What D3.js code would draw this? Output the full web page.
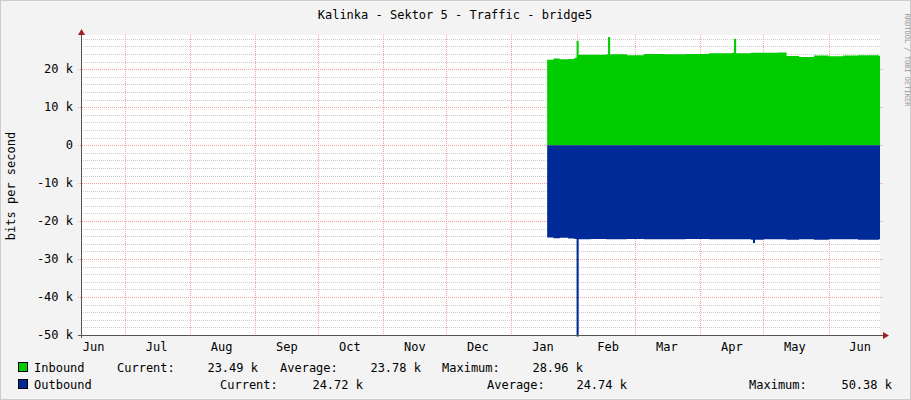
<!DOCTYPE html>
<html><head><meta charset="utf-8">
<script src="https://cdn.jsdelivr.net/npm/d3@7"></script>
<style>body{margin:0;background:#fff}text{font-family:"DejaVu Sans Mono",monospace}</style>
</head><body>
<script>
// data (values in k bits/s)
const dates = ["2011-01-18","2011-01-21","2011-01-24","2011-01-28","2011-01-31","2011-02-01","2011-02-02","2011-02-08","2011-02-15","2011-02-16","2011-02-17","2011-02-25","2011-03-05","2011-03-15","2011-03-25","2011-04-05","2011-04-16","2011-04-17","2011-04-18","2011-04-25","2011-04-26","2011-04-27","2011-05-01","2011-05-08","2011-05-12","2011-05-18","2011-05-25","2011-06-01","2011-06-08","2011-06-15","2011-06-25"];
const inbound = [22.5,22.8,22.6,22.7,23.0,27.5,23.8,23.8,23.9,28.5,23.9,23.7,24.0,23.9,24.0,24.2,24.3,28.0,24.2,24.3,24.3,24.3,24.3,24.4,23.5,23.2,23.6,23.4,23.6,23.7,23.5];
const outbound = [24.3,24.5,24.4,24.6,24.7,50.38,24.8,24.7,24.8,24.8,24.8,24.7,24.8,24.8,24.7,24.8,24.8,24.8,24.8,24.9,25.8,24.9,24.8,24.8,24.9,24.8,24.9,24.8,24.8,24.9,24.8];
const months = ["Jun","Jul","Aug","Sep","Oct","Nov","Dec","Jan","Feb","Mar","Apr","May","Jun"];
const yTicks = [-50,-40,-30,-20,-10,0,10,20];

const W = 911, H = 400;
const svg = d3.select("body").append("svg").attr("width", W).attr("height", H);
svg.append("rect").attr("width", W).attr("height", H).attr("fill", "#f3f3f3");
svg.append("rect").attr("x", 0.5).attr("y", 0.5).attr("width", W - 1).attr("height", H - 1).attr("fill", "none").attr("stroke", "#ccc");

const x = d3.scaleTime().domain([new Date(2010, 5, 10), new Date(2011, 5, 25, 12)]).range([81, 880]);
const y = d3.scaleLinear().domain([-50, 29]).range([335, 35]);

svg.append("rect").attr("x", 81).attr("y", 35).attr("width", 799).attr("height", 300).attr("fill", "#fff");

// grid
const minor = d3.range(-48, 29, 2).filter(v => v % 10 != 0);
svg.selectAll(".mg").data(minor).enter().append("line")
  .attr("x1", 81).attr("x2", 880).attr("y1", d => Math.round(y(d)) + 0.5).attr("y2", d => Math.round(y(d)) + 0.5)
  .attr("stroke", "#ccc").attr("stroke-dasharray", "1,1");
const mstarts = d3.timeMonth.range(new Date(2010, 6, 1), new Date(2011, 5, 25));
svg.selectAll(".vg").data(mstarts).enter().append("line")
  .attr("y1", 35).attr("y2", 335).attr("x1", d => Math.round(x(d)) + 0.5).attr("x2", d => Math.round(x(d)) + 0.5)
  .attr("stroke", "#f4a0a0").attr("stroke-dasharray", "1,1");
svg.selectAll(".hg").data(yTicks).enter().append("line")
  .attr("x1", 78).attr("x2", 884).attr("y1", d => Math.round(y(d)) + 0.5).attr("y2", d => Math.round(y(d)) + 0.5)
  .attr("stroke", "#f4a0a0").attr("stroke-dasharray", "1,1");

// areas
const pts = dates.map((d, i) => ({t: d3.timeParse("%Y-%m-%d")(d), i: inbound[i], o: outbound[i]}));
pts.push({t: new Date(2011, 5, 25, 12), i: inbound[inbound.length - 1], o: outbound[outbound.length - 1]});
svg.append("path").datum(pts).attr("fill", "#00cc00")
  .attr("d", d3.area().curve(d3.curveStepAfter).x(d => x(d.t)).y0(y(0)).y1(d => y(d.i)));
svg.append("path").datum(pts).attr("fill", "#002a97")
  .attr("d", d3.area().curve(d3.curveStepAfter).x(d => x(d.t)).y0(y(0)).y1(d => y(-d.o)));

// axes
svg.append("line").attr("x1", 81.5).attr("x2", 81.5).attr("y1", 33).attr("y2", 338).attr("stroke", "#555");
svg.append("line").attr("x1", 78).attr("x2", 884).attr("y1", 335.5).attr("y2", 335.5).attr("stroke", "#555");
svg.append("path").attr("d", "M78,35 L85,35 L81.5,29 Z").attr("fill", "#a02020");
svg.append("path").attr("d", "M883,332 L883,339 L889,335.5 Z").attr("fill", "#a02020");

svg.selectAll(".yl").data(yTicks).enter().append("text")
  .attr("x", 73).attr("y", d => y(d) + 4).attr("text-anchor", "end").attr("font-size", 12).attr("fill", "#000")
  .text(d => d == 0 ? "0" : d + " k");
const mids = d3.timeMonth.range(new Date(2010, 5, 1), new Date(2011, 6, 1)).map(d => new Date(d.getFullYear(), d.getMonth(), 16));
svg.selectAll(".xl").data(mids).enter().append("text")
  .attr("x", d => Math.max(x(d), 93)).attr("y", 351).attr("text-anchor", "middle").attr("font-size", 12)
  .text((d, i) => months[i]);

svg.append("text").attr("x", 455).attr("y", 19).attr("text-anchor", "middle").attr("font-size", 12).text("Kalinka - Sektor 5 - Traffic - bridge5");
svg.append("text").attr("transform", "translate(15,186) rotate(-90)").attr("text-anchor", "middle").attr("font-size", 12).text("bits per second");
svg.append("text").attr("transform", "translate(905,60) rotate(90)").attr("text-anchor", "middle").attr("font-size", 7).attr("fill", "#999").text("RRDTOOL / TOBI OETIKER");

// legend
const leg = [
  {c: "#00cc00", y: 372, items: [[34, "start", "Inbound"], [117, "start", "Current:"], [258, "end", "23.49 k"], [280, "start", "Average:"], [421, "end", "23.78 k"], [442, "start", "Maximum:"], [583, "end", "28.96 k"]]},
  {c: "#002a97", y: 389, items: [[34, "start", "Outbound"], [220, "start", "Current:"], [363, "end", "24.72 k"], [487, "start", "Average:"], [627, "end", "24.74 k"], [749, "start", "Maximum:"], [892, "end", "50.38 k"]]}
];
leg.forEach(l => {
  svg.append("rect").attr("x", 18.5).attr("y", l.y - 9.5).attr("width", 9).attr("height", 9).attr("fill", l.c).attr("stroke", "#000");
  l.items.forEach(it => svg.append("text").attr("x", it[0]).attr("y", l.y).attr("text-anchor", it[1]).attr("font-size", 12).text(it[2]));
});
</script>
</body></html>
